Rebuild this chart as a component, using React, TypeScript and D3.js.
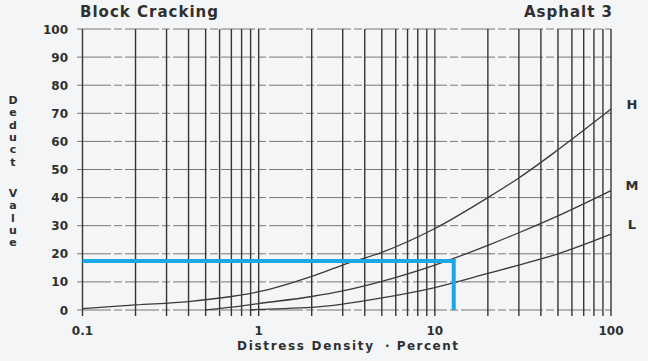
import * as d3 from 'd3';

// distress density (%) vs deduct value
const highX = [0.1, 0.2, 0.4, 0.7, 1, 2, 3, 5, 10, 20, 30, 50, 100];
const highY = [0.5, 1.8, 3.0, 4.8, 6.5, 12, 16, 20.5, 29, 40, 47, 57, 71.5];
const medX = [0.5, 0.7, 1, 2, 3, 5, 10, 20, 30, 50, 100];
const medY = [0, 1, 2.3, 4.8, 6.8, 10.2, 16, 23, 27.5, 33.5, 42.5];
const lowX = [0.9, 1, 2, 3, 5, 10, 20, 30, 50, 100];
const lowY = [0, 0.2, 0.9, 2.1, 4.3, 8, 13, 16, 20, 27];

const readDensity = 12.8;
const readDeduct = 17.4;

const yTicks = [0, 10, 20, 30, 40, 50, 60, 70, 80, 90, 100];
const xTicks = [0.1, 1, 10, 100];
const xTickLabels = ['0.1', '1', '10', '100'];
const curveLabels = ['H', 'M', 'L'];

const W = 648;
const H = 361;
const font = '"DejaVu Sans", Arial, sans-serif';
const ink = '#2f2f2f';

export default function App() {
  const x = d3.scaleLog().domain([0.1, 100]).range([82.5, 611]);
  const y = d3.scaleLinear().domain([0, 100]).range([310, 29]);

  // log grid: 1..9 in every decade, plus the closing 100
  const vLines: number[] = [];
  [0.1, 1, 10].forEach((dec) => {
    for (let k = 1; k <= 9; k++) vLines.push(+(dec * k).toPrecision(3));
  });
  vLines.push(100);

  const line = d3
    .line<[number, number]>()
    .x((d) => x(d[0]))
    .y((d) => y(d[1]))
    .curve(d3.curveMonotoneX);

  const series = [
    { xs: highX, ys: highY },
    { xs: medX, ys: medY },
    { xs: lowX, ys: lowY },
  ];
  const labelY = [109, 190, 229];

  const blue = d3.line()([
    [x(0.1), y(readDeduct)],
    [x(readDensity), y(readDeduct)],
    [x(readDensity), y(0)],
  ]);

  const deduct = 'Deduct'.split('');
  const value = 'Value'.split('');

  return (
    <svg
      width={W}
      height={H}
      style={{ position: 'absolute', left: 0, top: 0, background: '#f4f5f7' }}
      fontFamily={font}
    >
      {/* horizontal grid */}
      {yTicks.map((t) => (
        <line
          key={'h' + t}
          x1={77}
          x2={x(100)}
          y1={y(t)}
          y2={y(t)}
          stroke="#777"
          strokeWidth={1}
          strokeDasharray="34 3 8 3"
        />
      ))}
      {/* vertical grid */}
      {vLines.map((v) => (
        <line
          key={'v' + v}
          x1={x(v)}
          x2={x(v)}
          y1={y(100)}
          y2={316}
          stroke="#353535"
          strokeWidth={1.4}
        />
      ))}

      {series.map((s, i) => (
        <path
          key={i}
          d={line(s.xs.map((v, j) => [v, s.ys[j]] as [number, number])) || ''}
          fill="none"
          stroke="#3a3a3a"
          strokeWidth={1.3}
        />
      ))}

      <path d={blue || ''} fill="none" stroke="#1ca7e6" strokeWidth={4} strokeLinejoin="miter" />

      {/* y tick labels */}
      {yTicks.map((t) => (
        <text key={'yl' + t} x={68} y={y(t) + 4.5} textAnchor="end" fontSize={12} fontWeight="bold" fill={ink}>
          {t}
        </text>
      ))}
      {/* x tick labels */}
      {xTicks.map((t, i) => (
        <text key={'xl' + t} x={x(t)} y={335} textAnchor="middle" fontSize={12} fontWeight="bold" fill={ink}>
          {xTickLabels[i]}
        </text>
      ))}

      {curveLabels.map((c, i) => (
        <text key={c} x={632} y={labelY[i]} textAnchor="middle" fontSize={13} fontWeight="bold" fill={ink}>
          {c}
        </text>
      ))}

      <text x={80} y={17} fontSize={15} fontWeight="bold" fill={ink} textLength={138} lengthAdjust="spacing">
        Block Cracking
      </text>
      <text x={524} y={17} fontSize={15} fontWeight="bold" fill={ink} textLength={88} lengthAdjust="spacing">
        Asphalt 3
      </text>

      {/* stacked y title */}
      {deduct.map((c, i) => (
        <text key={'d' + i} x={13} y={104 + i * 12.3} textAnchor="middle" fontSize={11} fontWeight="bold" fill={ink}>
          {c}
        </text>
      ))}
      {value.map((c, i) => (
        <text key={'v' + i} x={13} y={197 + i * 12.3} textAnchor="middle" fontSize={11} fontWeight="bold" fill={ink}>
          {c}
        </text>
      ))}

      <text x={237} y={350} fontSize={12} fontWeight="bold" fill={ink} textLength={136} lengthAdjust="spacing">
        Distress Density
      </text>
      <text x={385} y={350} fontSize={12} fontWeight="bold" fill={ink} textLength={73} lengthAdjust="spacing">
        · Percent
      </text>
    </svg>
  );
}
